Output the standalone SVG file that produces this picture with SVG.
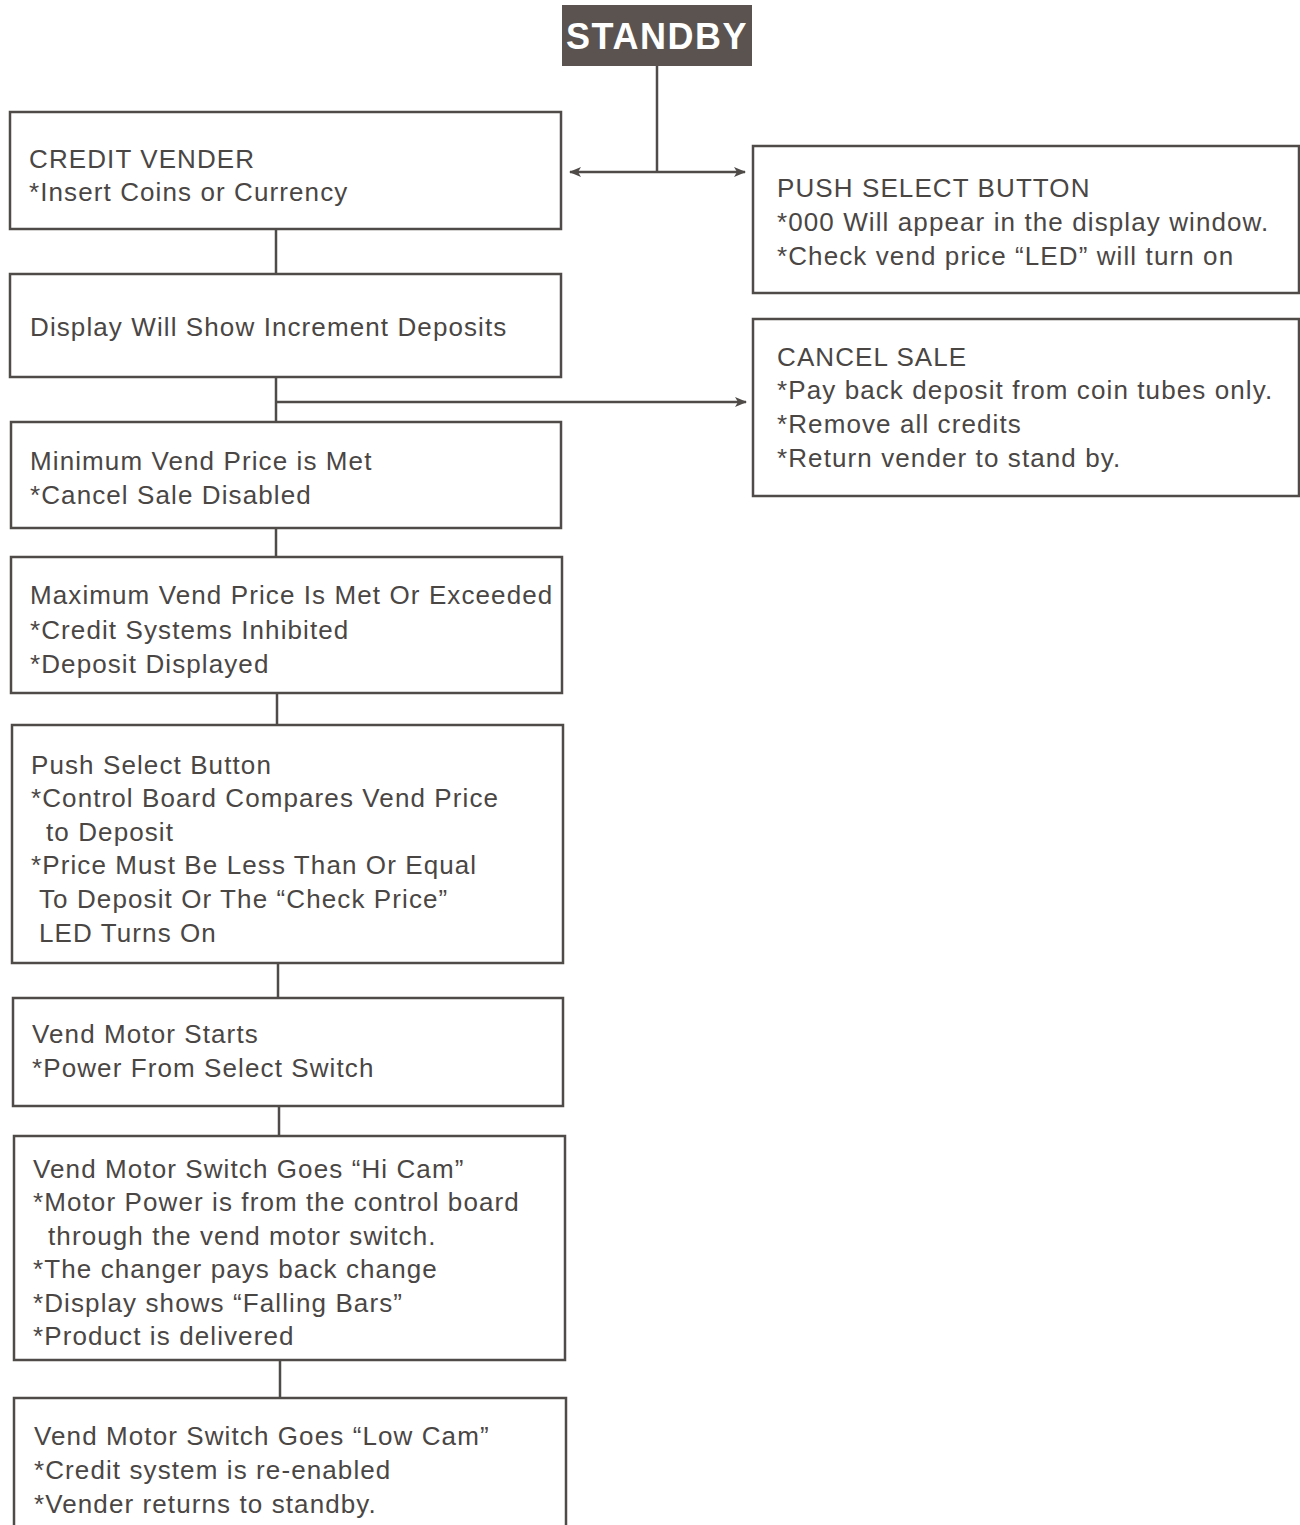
<svg xmlns="http://www.w3.org/2000/svg" width="1300" height="1525" viewBox="0 0 1300 1525">
<style>
.box{fill:#fff;stroke:#4f4b49;stroke-width:2.5}
.t{font-family:"Liberation Sans",Arial,sans-serif;font-size:26px;fill:#4a4644;letter-spacing:1.1px}
.c{stroke:#4f4b49;stroke-width:2.5;fill:none}
</style>
<defs>
<marker id="ah" viewBox="0 0 12 10" refX="11" refY="5" markerWidth="12" markerHeight="10" markerUnits="userSpaceOnUse" orient="auto-start-reverse">
<path d="M0,0 L12,5 L0,10 L3,5 Z" fill="#4f4b49"/>
</marker>
</defs>
<rect width="1300" height="1525" fill="#fff"/>
<g id="connectors">
<line class="c" x1="657" y1="66" x2="657" y2="172"/>
<line class="c" x1="570" y1="172" x2="745" y2="172" marker-start="url(#ah)" marker-end="url(#ah)"/>
<line class="c" x1="276" y1="229" x2="276" y2="274"/>
<line class="c" x1="276" y1="377" x2="276" y2="422"/>
<line class="c" x1="276" y1="402" x2="746" y2="402" marker-end="url(#ah)"/>
<line class="c" x1="276" y1="528" x2="276" y2="557"/>
<line class="c" x1="277" y1="693" x2="277" y2="725"/>
<line class="c" x1="278" y1="963" x2="278" y2="998"/>
<line class="c" x1="279" y1="1106" x2="279" y2="1136"/>
<line class="c" x1="280" y1="1360" x2="280" y2="1398"/>
</g>
<g id="standby">
<rect x="562" y="5" width="190" height="61" fill="#5a5350"/>
<text x="657" y="49" text-anchor="middle" font-family="'Liberation Sans',Arial,sans-serif" font-weight="bold" font-size="36" letter-spacing="1.5" fill="#fff">STANDBY</text>
</g>
<g id="credit-vender">
<rect class="box" x="10" y="112" width="551" height="117"/>
<text class="t" x="29" y="168">CREDIT VENDER</text>
<text class="t" x="29" y="201">*Insert Coins or Currency</text>
</g>
<g id="push-select-top">
<rect class="box" x="753" y="146" width="546" height="147"/>
<text class="t" x="777" y="197">PUSH SELECT BUTTON</text>
<text class="t" x="777" y="231">*000 Will appear in the display window.</text>
<text class="t" x="777" y="265">*Check vend price “LED” will turn on</text>
</g>
<g id="display">
<rect class="box" x="10" y="274" width="551" height="103"/>
<text class="t" x="30" y="336">Display Will Show Increment Deposits</text>
</g>
<g id="cancel-sale">
<rect class="box" x="753" y="319" width="546" height="177"/>
<text class="t" x="777" y="366">CANCEL SALE</text>
<text class="t" x="777" y="399">*Pay back deposit from coin tubes only.</text>
<text class="t" x="777" y="433">*Remove all credits</text>
<text class="t" x="777" y="467">*Return vender to stand by.</text>
</g>
<g id="minimum">
<rect class="box" x="11" y="422" width="550" height="106"/>
<text class="t" x="30" y="470">Minimum Vend Price is Met</text>
<text class="t" x="30" y="504">*Cancel Sale Disabled</text>
</g>
<g id="maximum">
<rect class="box" x="11" y="557" width="551" height="136"/>
<text class="t" x="30" y="604">Maximum Vend Price Is Met Or Exceeded</text>
<text class="t" x="30" y="639">*Credit Systems Inhibited</text>
<text class="t" x="30" y="673">*Deposit Displayed</text>
</g>
<g id="push-select">
<rect class="box" x="12" y="725" width="551" height="238"/>
<text class="t" x="31" y="774">Push Select Button</text>
<text class="t" x="31" y="807">*Control Board Compares Vend Price</text>
<text class="t" x="46" y="841">to Deposit</text>
<text class="t" x="31" y="874">*Price Must Be Less Than Or Equal</text>
<text class="t" x="39" y="908">To Deposit Or The “Check Price”</text>
<text class="t" x="39" y="942">LED Turns On</text>
</g>
<g id="vend-motor-starts">
<rect class="box" x="13" y="998" width="550" height="108"/>
<text class="t" x="32" y="1043">Vend Motor Starts</text>
<text class="t" x="32" y="1077">*Power From Select Switch</text>
</g>
<g id="hi-cam">
<rect class="box" x="14" y="1136" width="551" height="224"/>
<text class="t" x="33" y="1178">Vend Motor Switch Goes “Hi Cam”</text>
<text class="t" x="33" y="1211">*Motor Power is from the control board</text>
<text class="t" x="48" y="1245">through the vend motor switch.</text>
<text class="t" x="33" y="1278">*The changer pays back change</text>
<text class="t" x="33" y="1312">*Display shows “Falling Bars”</text>
<text class="t" x="33" y="1345">*Product is delivered</text>
</g>
<g id="low-cam">
<path class="box" d="M14,1530 V1398 H566 V1530"/>
<text class="t" x="34" y="1445">Vend Motor Switch Goes “Low Cam”</text>
<text class="t" x="34" y="1479">*Credit system is re-enabled</text>
<text class="t" x="34" y="1513">*Vender returns to standby.</text>
</g>
</svg>
